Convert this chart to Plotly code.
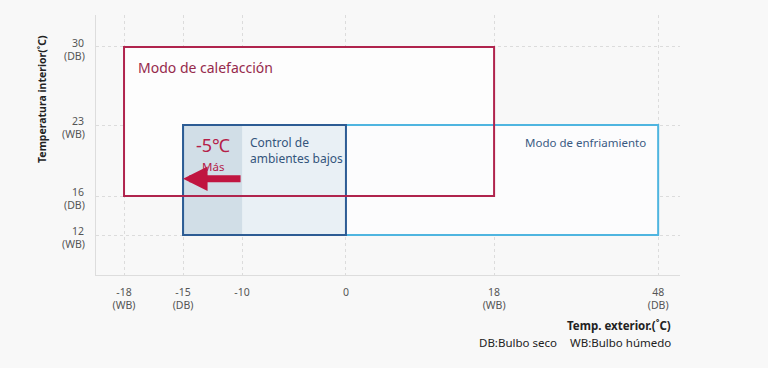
import numpy as np
import plotly.graph_objects as go

# ---- data ----
x_ticks = [-18, -15, -10, 0, 18, 48]
x_tick_text = ["-18<br>(WB)", "-15<br>(DB)", "-10", "0", "18<br>(WB)", "48<br>(DB)"]
x_tick_pos = [0, 1, 2, 3.76, 6.27, 9.05]   # non-linear display scale of the outdoor axis

y_ticks = [12, 16, 23, 30]
y_tick_val = ["12", "16", "23", "30"]
y_tick_sub = ["(WB)", "(DB)", "(WB)", "(DB)"]
y_tick_pos = [12, 16, 23.28, 31.28]        # non-linear display scale of the indoor axis

heating_x = [-18, 18]
heating_y = [16, 30]
cooling_x = [-15, 48]
cooling_y = [12, 23]
low_x = [-15, 0]
low_y = [12, 23]
extra_x = [-15, -10]   # extended (-5 °C more) zone
arrow_from = -10
arrow_to = -15
arrow_y = 17.7


def fx(v):
    return float(np.interp(v, x_ticks, x_tick_pos))


def fy(v):
    return float(np.interp(v, y_ticks, y_tick_pos))


CRIMSON = "#b0244d"
CRIMSON_TXT = "#962a4c"
LBLUE = "#4fb5e0"
DBLUE = "#2d5c94"
BG = "#f8f8f8"
FONT = "Noto Sans"
TICKC = "#555555"

fig = go.Figure()


def rect(xr, yr, line=None, fill=None, width=2):
    fig.add_shape(type="rect", xref="x", yref="y",
                  x0=fx(xr[0]), x1=fx(xr[1]), y0=fy(yr[0]), y1=fy(yr[1]),
                  line=dict(color=line or "rgba(0,0,0,0)", width=width if line else 0),
                  fillcolor=fill or "rgba(0,0,0,0)", layer="above")


# fills
rect(heating_x, heating_y, fill="#fdfdfd")
rect(cooling_x, cooling_y, fill="#fcfcfd")
rect(low_x, low_y, fill="rgba(220,232,240,0.6)")
rect(extra_x, low_y, fill="rgba(180,200,215,0.45)")
# borders
rect(cooling_x, cooling_y, line=LBLUE)
rect(low_x, low_y, line=DBLUE)
rect(heating_x, heating_y, line=CRIMSON)

# invisible trace to set axes
fig.add_trace(go.Scatter(x=[fx(v) for v in x_ticks], y=[fy(v) for v in y_ticks],
                         mode="markers", marker=dict(opacity=0), hoverinfo="skip",
                         showlegend=False))

# arrow
fig.add_annotation(x=fx(arrow_to), y=fy(arrow_y), ax=fx(arrow_from), ay=fy(arrow_y),
                   xref="x", yref="y", axref="x", ayref="y", text="",
                   showarrow=True, arrowhead=2, arrowsize=0.7, arrowwidth=7,
                   arrowcolor="#c01540", standoff=0, startstandoff=0)

# y tick labels (right aligned, two lines around the tick)
for v, t, s in zip(y_ticks, y_tick_val, y_tick_sub):
    fig.add_annotation(x=0, y=fy(v), xref="paper", yref="y", text=t, showarrow=False,
                       xanchor="right", yanchor="middle", xshift=-10, yshift=4,
                       font=dict(family=FONT, size=10.5, color=TICKC))
    fig.add_annotation(x=0, y=fy(v), xref="paper", yref="y", text=s, showarrow=False,
                       xanchor="right", yanchor="middle", xshift=-9, yshift=-9,
                       font=dict(family=FONT, size=10.5, color=TICKC))

# texts
fig.add_annotation(x=fx(-18), y=fy(28.2), xref="x", yref="y", text="Modo de calefacción",
                   showarrow=False, xanchor="left", yanchor="middle", xshift=12,
                   font=dict(family=FONT, size=14, color=CRIMSON_TXT))
fig.add_annotation(x=(fx(-15) + fx(-10)) / 2, y=fy(20.8), xref="x", yref="y", text="-5℃",
                   showarrow=False, yanchor="middle", yshift=2,
                   font=dict(family=FONT, size=18, color="#b52048"))
fig.add_annotation(x=(fx(-15) + fx(-10)) / 2, y=fy(19.3), xref="x", yref="y", text="Más",
                   showarrow=False, yanchor="middle", yshift=-4,
                   font=dict(family=FONT, size=11.5, color="#b52048"))
fig.add_annotation(x=fx(-10), y=fy(20.5), xref="x", yref="y",
                   text="Control de<br>ambientes bajos", align="left",
                   showarrow=False, xanchor="left", yanchor="middle", xshift=6,
                   font=dict(family=FONT, size=12, color="#34557c"))
fig.add_annotation(x=fx(48), y=fy(21.3), xref="x", yref="y", text="Modo de enfriamiento",
                   showarrow=False, xanchor="right", yanchor="middle", xshift=-10,
                   font=dict(family=FONT, size=11.5, color="#3a5a82"))

# axis titles
fig.add_annotation(x=-0.0925, y=0.677, xref="paper", yref="paper",
                   text="<b>Temperatura interior(˚C)</b>", textangle=-90, showarrow=False,
                   xanchor="center", yanchor="middle",
                   font=dict(family=FONT, size=10.5, color="#222"))
fig.add_annotation(x=0.988, y=-0.196, xref="paper", yref="paper",
                   text="<b>Temp. exterior.(˚C)</b>", showarrow=False,
                   xanchor="right", yanchor="middle",
                   font=dict(family=FONT, size=11.5, color="#222"))
fig.add_annotation(x=0.652, y=-0.2615, xref="paper", yref="paper",
                   text="DB:Bulbo seco", showarrow=False, xanchor="left", yanchor="middle",
                   font=dict(family=FONT, size=11.5, color="#222"))
fig.add_annotation(x=0.988, y=-0.2615, xref="paper", yref="paper",
                   text="WB:Bulbo húmedo", showarrow=False, xanchor="right", yanchor="middle",
                   font=dict(family=FONT, size=11.5, color="#222"))

fig.update_layout(
    width=768, height=368,
    margin=dict(l=96, r=88, t=15, b=93),
    paper_bgcolor=BG, plot_bgcolor=BG,
    showlegend=False,
    font=dict(family=FONT, size=10, color=TICKC),
    xaxis=dict(range=[-0.475, 9.42], tickmode="array",
               tickvals=[fx(v) for v in x_ticks], ticktext=x_tick_text,
               showgrid=True, gridcolor="#dcdcdc", griddash="dot", gridwidth=1,
               showline=True, linecolor="#dddddd", linewidth=1,
               zeroline=False, ticks="outside", ticklen=7, tickcolor="rgba(0,0,0,0)",
               tickfont=dict(family=FONT, size=10.5, color=TICKC), fixedrange=True),
    yaxis=dict(range=[7.9, 34.56], tickmode="array",
               tickvals=[fy(v) for v in y_ticks], showticklabels=False,
               showgrid=True, gridcolor="#dcdcdc", griddash="dot", gridwidth=1,
               showline=True, linecolor="#dddddd", linewidth=1,
               zeroline=False, ticks="", fixedrange=True),
)

fig.write_html(
    "out.html",
    config={"displayModeBar": False},
    post_script="document.body.style.margin='0';document.body.style.background='#f8f8f8';"
                "document.body.style.overflow='hidden';",
)
